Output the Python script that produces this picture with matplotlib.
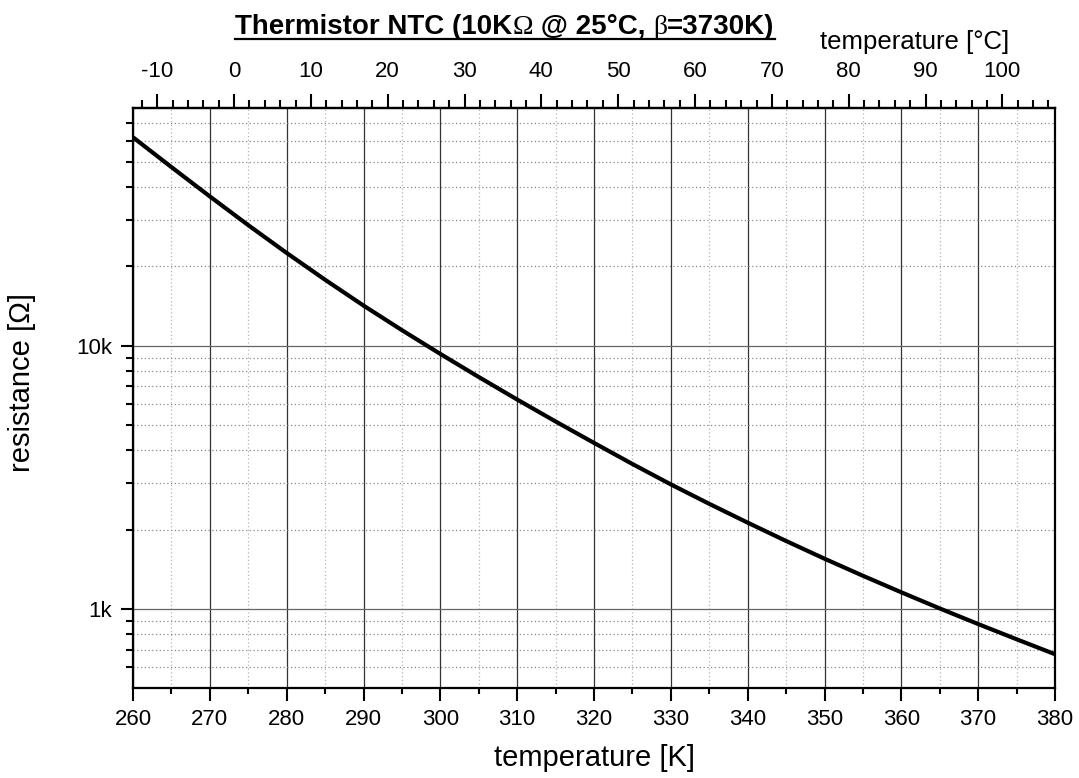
import matplotlib
matplotlib.use("Agg")
import matplotlib.pyplot as plt
from matplotlib.ticker import FixedLocator, NullFormatter, FixedFormatter
from matplotlib.lines import Line2D

# ---- data ----
temperature_K = [260, 265, 270, 275, 280, 285, 290, 295, 300, 305, 310, 315, 320,
                 325, 330, 335, 340, 345, 350, 355, 360, 365, 370, 375, 380]
resistance_ohm = [61900, 47700, 36900, 28700, 22500, 17800, 14200, 11450, 9300,
                  7600, 6240, 5150, 4270, 3550, 2970, 2505, 2125, 1810, 1550,
                  1335, 1155, 1003, 875, 766, 672]
x_major = [260, 270, 280, 290, 300, 310, 320, 330, 340, 350, 360, 370, 380]
x_minor = [265, 275, 285, 295, 305, 315, 325, 335, 345, 355, 365, 375]
y_major = [1000, 10000]
y_major_labels = ["1k", "10k"]
y_minor = [600, 700, 800, 900, 2000, 3000, 4000, 5000, 6000, 7000, 8000, 9000,
           20000, 30000, 40000, 50000, 60000, 70000]
top_major_C = [-10, 0, 10, 20, 30, 40, 50, 60, 70, 80, 90, 100]
top_minor_C = [-12, -8, -6, -4, -2, 2, 4, 6, 8, 12, 14, 16, 18, 22, 24, 26, 28,
               32, 34, 36, 38, 42, 44, 46, 48, 52, 54, 56, 58, 62, 64, 66, 68,
               72, 74, 76, 78, 82, 84, 86, 88, 92, 94, 96, 98, 102, 104, 106]

SANS = "Liberation Sans"
SERIF = "Liberation Serif"
plt.rcParams["font.family"] = [SANS, "DejaVu Sans"]
plt.rcParams["axes.unicode_minus"] = False

W, H = 1079, 778
fig = plt.figure(figsize=(W / 100, H / 100), dpi=100)
ax = fig.add_axes([133 / W, 1 - 688 / H, 922 / W, 580 / H])

ax.plot(temperature_K, resistance_ohm, color="black", lw=3.0, solid_capstyle="butt", zorder=5)

ax.set_yscale("log")
ax.set_xlim(260, 380)
ax.set_ylim(500, 80000)

ax.xaxis.set_major_locator(FixedLocator(x_major))
ax.xaxis.set_minor_locator(FixedLocator(x_minor))
ax.yaxis.set_major_locator(FixedLocator(y_major))
ax.yaxis.set_major_formatter(FixedFormatter(y_major_labels))
ax.yaxis.set_minor_locator(FixedLocator(y_minor))
ax.yaxis.set_minor_formatter(NullFormatter())

ax.grid(True, which="major", axis="x", color="#333333", lw=0.9, ls="-", zorder=1)
ax.grid(True, which="major", axis="y", color="#666666", lw=0.9, ls="-", zorder=1)
ax.grid(True, which="minor", axis="y", color="#888888", lw=0.9, ls=(0, (1, 2)), zorder=1)
ax.grid(True, which="minor", axis="x", color="#b5b5b5", lw=0.9, ls=(0, (1, 2)), zorder=1)

for s in ax.spines.values():
    s.set_linewidth(1.6)
ax.tick_params(axis="both", which="major", direction="out", length=9, width=1.5,
               labelsize=16, pad=6)
ax.tick_params(axis="x", which="minor", direction="out", length=4, width=1.5)
ax.tick_params(axis="y", which="minor", direction="out", length=5, width=1.5)
ax.tick_params(axis="y", which="major", pad=6)
ax.tick_params(top=False, right=False, which="both")

ax.set_xlabel("temperature [K]", fontsize=21, labelpad=10)

fig.text(22 / W, 1 - 383 / H, "resistance [Ω]", rotation=90, ha="center", va="center",
         fontsize=21)

# top Celsius axis
sec = ax.secondary_xaxis("top", functions=(lambda k: k - 273.15, lambda c: c + 273.15))
sec.xaxis.set_major_locator(FixedLocator(top_major_C))
sec.xaxis.set_minor_locator(FixedLocator(top_minor_C))
sec.tick_params(which="major", direction="out", length=10, width=1.5, labelsize=16, pad=9)
sec.tick_params(which="minor", direction="out", length=5.5, width=1.5)
sec.spines["top"].set_linewidth(1.6)
fig.text(915 / W, 1 - 42 / H, "temperature [°C]", ha="center", va="center", fontsize=18.5)

# title built from pieces (bold sans + serif greek)
pieces = [("Thermistor NTC (10K", SANS, "bold"), ("Ω", SERIF, "normal"),
          (" @ 25°C, ", SANS, "bold"), ("β", SERIF, "normal"), ("=3730K)", SANS, "bold")]
fs_title = 20
renderer = fig.canvas.get_renderer()
widths = []
for s, fam, wt in pieces:
    s2 = s.replace(" ", "\u00a0")
    t = fig.text(0, 0, "|" + s2 + "|", fontsize=fs_title, family=fam, weight=wt)
    bar = fig.text(0, 0, "||", fontsize=fs_title, family=fam, weight=wt)
    w = t.get_window_extent(renderer).width - bar.get_window_extent(renderer).width
    t.remove(); bar.remove()
    widths.append(w)
total = sum(widths)
cx, base_y = 505, 1 - 34 / H
x0 = cx - total / 2
x = x0
for (s, fam, wt), w in zip(pieces, widths):
    fig.text(x / W, base_y, s.replace(" ", "\u00a0"), fontsize=fs_title, family=fam,
             weight=wt, ha="left", va="baseline")
    x += w
fig.add_artist(Line2D([x0 / W, x / W], [1 - 39 / H, 1 - 39 / H], color="black", lw=1.6,
                      transform=fig.transFigure))

fig.savefig("out.png", dpi=100)
